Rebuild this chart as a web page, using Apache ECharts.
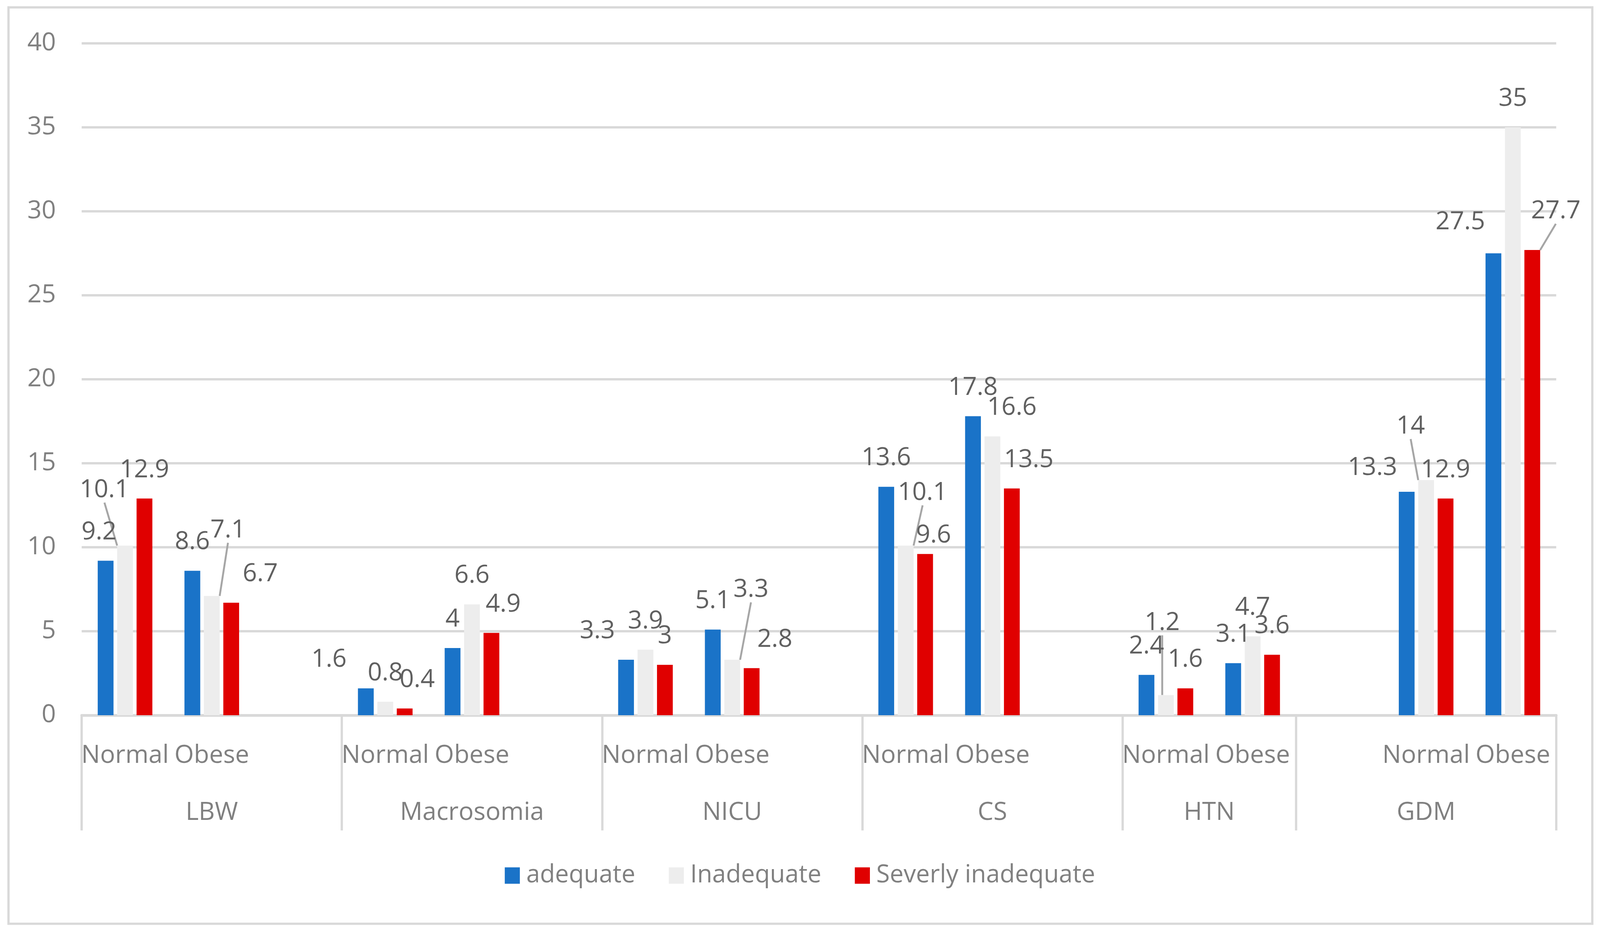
<!DOCTYPE html>
<html>
<head>
<meta charset="utf-8">
<script src="https://cdn.jsdelivr.net/npm/echarts@6/dist/echarts.min.js"></script>
<style>
html,body{margin:0;padding:0;background:#ffffff;overflow:hidden;}
#c{position:absolute;left:0;top:0;}
</style>
</head>
<body>
<div id="c"></div>
<script>
// ---------- data ----------
const groups = ['LBW', 'Macrosomia', 'NICU', 'CS', 'HTN', 'GDM'];
// sub-category slots of each group ('' = empty slot, as in the source chart)
const groupSlots = [
  ['Normal', 'Obese', ''],
  ['Normal', 'Obese', ''],
  ['Normal', 'Obese', ''],
  ['Normal', 'Obese', ''],
  ['Normal', 'Obese'],
  ['', 'Normal', 'Obese']
];
const seriesNames = ['adequate', 'Inadequate', 'Severly inadequate'];
// values in order: LBW N, LBW O, Macro N, Macro O, NICU N, NICU O, CS N, CS O, HTN N, HTN O, GDM N, GDM O
const adequate   = [9.2, 8.6, 1.6, 4, 3.3, 5.1, 13.6, 17.8, 2.4, 3.1, 13.3, 27.5];
const inadequate = [10.1, 7.1, 0.8, 6.6, 3.9, 3.3, 10.1, 16.6, 1.2, 4.7, 14, 35];
const severe     = [12.9, 6.7, 0.4, 4.9, 3, 2.8, 9.6, 13.5, 1.6, 3.6, 12.9, 27.7];
const yMin = 0, yMax = 40, yStep = 5;

// ---------- label placement (moved labels, as in the source) ----------
const labelShift = [
  [[-18,0],[0,0],[-100,0],[0,0],[-78,0],[0,0],[0,0],[0,0],[0,0],[0,0],[-93,12],[-90,-7]],
  [[-56,-69],[44,-95],[0,0],[0,0],[0,0],[51,-106],[46,-62],[53,0],[-10,-112],[0,0],[-42,-64],[0,0]],
  [[0,0],[79,0],[34,0],[32,0],[0,0],[63,0],[23,26],[46,0],[0,0],[0,0],[0,0],[64,-26]]
];
const leaderLines = [[], [0, 1, 5, 6, 8, 10], [11]];

// ---------- sizing (design size 4349 x 2386, fitted to the viewport) ----------
const W = window.innerWidth || 4349;
const H = window.innerHeight || 2386;
const sx = W / 4349, sy = H / 2386, fs = Math.sqrt(sx * sy);
const X = (v) => v * sx, Y = (v) => v * sy, F = (v) => v * fs;
const el = document.getElementById('c');
el.style.width = W + 'px';
el.style.height = H + 'px';

// ---------- build slots ----------
const FONT = 'Open Sans';
const categories = [];
const slotValueIndex = [];
const groupStarts = [];
const groupCenters = {};
let pos = 0;
groups.forEach((g, gi) => {
  groupStarts.push(pos);
  groupCenters[String(pos + groupSlots[gi].length / 2)] = g;
  groupSlots[gi].forEach((sub, k) => {
    categories.push(g + '|' + sub + '|' + k);
    slotValueIndex.push(sub === 'Normal' ? gi * 2 : (sub === 'Obese' ? gi * 2 + 1 : null));
  });
  pos += groupSlots[gi].length;
});
const totalSlots = pos;
const startSet = new Set(groupStarts);

const colors = ['#1A73C8', '#EDEDED', '#E00000'];
const allValues = [adequate, inadequate, severe];

const series = seriesNames.map((name, si) => ({
  name: name,
  type: 'bar',
  barGap: '23%',
  barCategoryGap: '37%',
  itemStyle: { color: colors[si] },
  label: {
    show: true, position: 'top', distance: Y(41),
    fontFamily: FONT, fontSize: F(66), color: '#606060'
  },
  labelLine: { show: false, lineStyle: { color: '#A6A6A6', width: F(5) } },
  labelLayout: function (p) {
    const vi = slotValueIndex[p.dataIndex];
    if (vi === null || vi === undefined) return {};
    const d = labelShift[si][vi];
    return { dx: X(d[0]), dy: Y(d[1]) };
  },
  data: slotValueIndex.map(vi => {
    if (vi === null) return null;
    return {
      value: allValues[si][vi],
      labelLine: { show: leaderLines[si].indexOf(vi) >= 0 }
    };
  })
}));

const chart = echarts.init(el, null, { renderer: 'canvas', width: W, height: H });
chart.setOption({
  animation: false,
  backgroundColor: '#ffffff',
  textStyle: { fontFamily: FONT },
  graphic: [{
    type: 'rect', left: X(20), top: Y(16), silent: true,
    shape: { width: X(4305), height: Y(2346) },
    style: { fill: 'none', stroke: '#D9D9D9', lineWidth: F(6) }
  }],
  grid: { left: X(222), right: W - X(4230), top: Y(111), bottom: H - Y(1831), containLabel: false },
  legend: {
    data: seriesNames,
    left: 'center', top: Y(2205),
    icon: 'rect', itemWidth: X(41), itemHeight: Y(42), itemGap: X(91),
    textStyle: { fontFamily: FONT, fontSize: F(65), color: '#808080', padding: [0, 0, 0, X(12)] }
  },
  xAxis: [{
    type: 'category',
    data: categories,
    position: 'bottom',
    axisLine: { show: true, lineStyle: { color: '#D9D9D9', width: F(7) } },
    axisTick: {
      show: true, length: Y(295),
      interval: (idx) => startSet.has(idx),
      lineStyle: { color: '#D9D9D9', width: F(6) }
    },
    axisLabel: {
      interval: 0, margin: Y(72),
      fontFamily: FONT, fontSize: F(66), color: '#808080',
      formatter: (v) => v.split('|')[1]
    },
    splitLine: { show: false }
  }, {
    type: 'value',
    position: 'bottom',
    min: 0, max: totalSlots, interval: 0.5,
    axisLine: { show: false }, axisTick: { show: false }, splitLine: { show: false },
    axisLabel: {
      margin: Y(218), fontFamily: FONT, fontSize: F(66), color: '#808080',
      showMinLabel: true, showMaxLabel: true,
      formatter: (v) => groupCenters[String(v)] || ''
    }
  }],
  yAxis: {
    type: 'value', min: yMin, max: yMax, interval: yStep,
    axisLine: { show: false }, axisTick: { show: false },
    axisLabel: { margin: X(70), fontFamily: FONT, fontSize: F(66), color: '#808080' },
    splitLine: { lineStyle: { color: '#D9D9D9', width: F(6) } }
  },
  series: series
});
</script>
</body>
</html>
